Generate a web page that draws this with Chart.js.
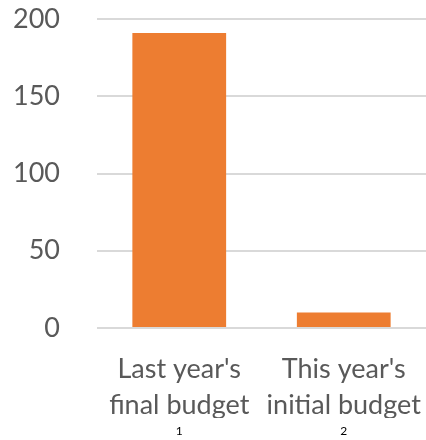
<!DOCTYPE html>
<html>
<head>
<meta charset="utf-8">
<script src="https://cdn.jsdelivr.net/npm/chart.js@4"></script>
<style>
  body { margin: 0; background: #fff; }
  #wrap { width: 426px; height: 440px; }
</style>
</head>
<body>
<div id="wrap"><canvas id="budgetChart" width="426" height="440"></canvas></div>
<script>
const categories = [["Last year's", "final budget"], ["This year's", "initial budget"]];
const indexLabels = ['1', '2'];
const budgetValues = [191, 10];
const yTicks = { min: 0, max: 200, step: 50 };

const ctx = document.getElementById('budgetChart').getContext('2d');
const chart = new Chart(ctx, {
    type: 'bar',
    data: {
        labels: categories,
        datasets: [{
            label: 'Budget',
            data: budgetValues,
            backgroundColor: '#ED7D31',
            borderWidth: 0,
            barPercentage: 0.57,
            categoryPercentage: 1.0,
            xAxisID: 'x',
            yAxisID: 'y'
        }]
    },
    options: {
        responsive: false,
        animation: false,
        devicePixelRatio: 1,
        layout: { padding: { left: 12, right: 0, top: 19, bottom: 3 } },
        plugins: {
            legend: { display: false },
            tooltip: { enabled: false }
        },
        scales: {
            y: {
                min: yTicks.min,
                max: yTicks.max,
                border: { display: false },
                grid: { color: '#d9d9d9', lineWidth: 2, drawTicks: false },
                ticks: {
                    stepSize: yTicks.step,
                    padding: 37,
                    color: '#595959',
                    font: { family: 'Lato', size: 27 }
                },
                // keep the plot edges where the original has them
                afterFit: scale => {
                    scale.width = 85;
                    scale.paddingTop = 0;
                    scale.paddingBottom = 0;
                }
            },
            x: {
                weight: 0,
                border: { display: false },
                grid: { display: false },
                ticks: {
                    padding: 15,
                    color: '#595959',
                    maxRotation: 0,
                    minRotation: 0,
                    autoSkip: false,
                    font: { family: 'Lato', size: 27, lineHeight: 1.33 }
                },
                afterFit: scale => {
                    scale.height = 90;
                    scale.paddingLeft = 0;
                    scale.paddingRight = 0;
                }
            },
            x2: {
                type: 'category',
                labels: indexLabels,
                position: 'bottom',
                weight: 1,
                border: { display: false },
                grid: { display: false, drawTicks: false },
                ticks: {
                    padding: 6,
                    color: '#000000',
                    maxRotation: 0,
                    font: { family: 'Lato', size: 12 }
                },
                afterFit: scale => {
                    scale.height = 19;
                    scale.paddingLeft = 0;
                    scale.paddingRight = 0;
                }
            }
        }
    }
});
</script>
</body>
</html>
